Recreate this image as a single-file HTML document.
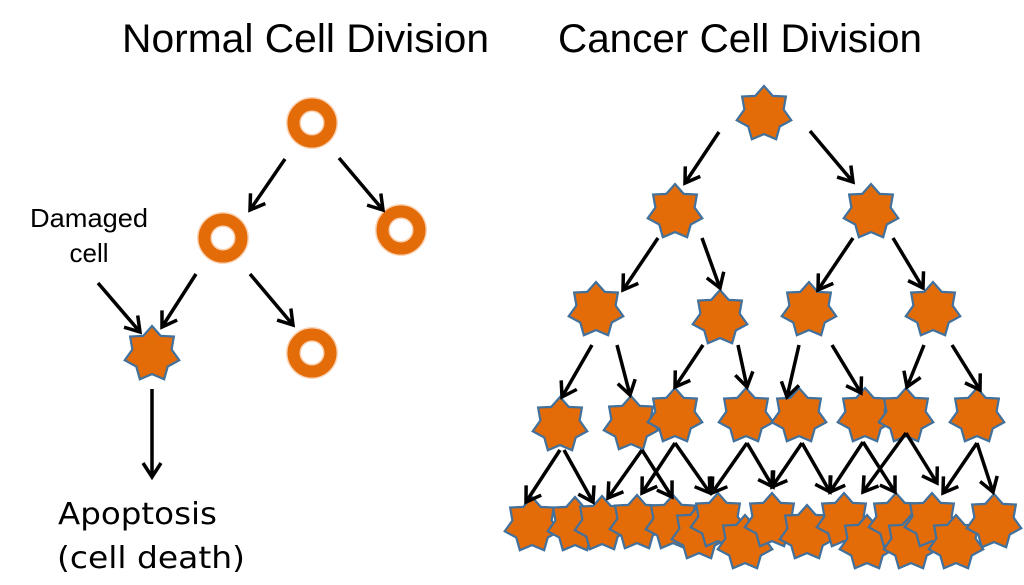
<!DOCTYPE html>
<html><head><meta charset="utf-8"><style>
html,body{margin:0;padding:0;background:#fff;}
svg{display:block;}
</style></head><body>
<svg width="1024" height="585" viewBox="0 0 1024 585" xmlns="http://www.w3.org/2000/svg">
<defs>
<marker id="ah" markerUnits="userSpaceOnUse" orient="auto" refX="0" refY="0" markerWidth="40" markerHeight="40" viewBox="-20 -20 40 40" style="overflow:visible">
<path d="M-14,-9 L0,0 L-14,9" fill="none" stroke="#000" stroke-width="3.5" stroke-linejoin="miter"/>
</marker>
<g id="st"><path d="M0,-28 L8.73,-18.13 L21.89,-17.45 L19.61,-4.48 L27.29,6.23 L15.73,12.55 L12.15,25.23 L0,20.12 L-12.15,25.23 L-15.73,12.55 L-27.29,6.23 L-19.61,-4.48 L-21.89,-17.45 L-8.73,-18.13 Z" fill="#E36C09" stroke="#41719C" stroke-width="2.2" stroke-linejoin="miter"/></g>
<g id="rg"><circle r="18.5" fill="none" stroke="#FAD3B5" stroke-width="15"/><circle r="18.5" fill="none" stroke="#E36C09" stroke-width="12"/></g>
</defs>

<!-- Titles -->
<text x="122" y="52" font-family="Liberation Sans, sans-serif" font-size="40" fill="#000" textLength="367" lengthAdjust="spacingAndGlyphs">Normal Cell Division</text>
<text x="558" y="52" font-family="Liberation Sans, sans-serif" font-size="40" fill="#000" textLength="364" lengthAdjust="spacingAndGlyphs">Cancer Cell Division</text>

<!-- Left labels -->
<text x="89" y="227" font-family="Liberation Sans, sans-serif" font-size="26" fill="#000" text-anchor="middle" textLength="118" lengthAdjust="spacingAndGlyphs">Damaged</text>
<text x="89" y="262" font-family="Liberation Sans, sans-serif" font-size="26" fill="#000" text-anchor="middle">cell</text>
<text x="58" y="524" font-family="DejaVu Sans, sans-serif" font-size="30" fill="#000" textLength="159" lengthAdjust="spacingAndGlyphs">Apoptosis</text>
<text x="57" y="568" font-family="DejaVu Sans, sans-serif" font-size="30" fill="#000" textLength="188" lengthAdjust="spacingAndGlyphs">(cell death)</text>

<!-- Normal rings -->
<use href="#rg" x="312" y="123"/>
<use href="#rg" x="223" y="238"/>
<use href="#rg" x="401" y="230"/>
<use href="#rg" x="312" y="353"/>
<use href="#st" x="152" y="354"/>

<!-- Cancer stars -->
<use href="#st" x="764" y="114"/>
<use href="#st" x="675" y="212"/>
<use href="#st" x="871" y="212"/>
<use href="#st" x="596" y="310"/>
<use href="#st" x="720" y="318"/>
<use href="#st" x="809" y="310"/>
<use href="#st" x="933" y="310"/>

<use href="#st" x="560" y="425"/>
<use href="#st" x="631" y="424"/>
<use href="#st" x="675" y="416"/>
<use href="#st" x="746" y="416"/>
<use href="#st" x="799" y="416"/>
<use href="#st" x="865" y="416"/>
<use href="#st" x="906" y="416"/>
<use href="#st" x="977" y="416"/>

<use href="#st" x="532" y="525"/>
<use href="#st" x="575" y="525"/>
<use href="#st" x="602" y="524"/>
<use href="#st" x="637" y="523"/>
<use href="#st" x="673" y="523"/>
<use href="#st" x="699" y="533"/>
<use href="#st" x="718" y="521"/>
<use href="#st" x="745" y="543"/>
<use href="#st" x="772" y="521"/>
<use href="#st" x="807" y="533"/>
<use href="#st" x="844" y="521"/>
<use href="#st" x="867" y="543"/>
<use href="#st" x="896" y="521"/>
<use href="#st" x="911" y="543"/>
<use href="#st" x="932" y="521"/>
<use href="#st" x="956" y="543"/>
<use href="#st" x="994" y="522"/>

<!-- Arrows -->
<g stroke="#000" stroke-width="3.5" fill="none" marker-end="url(#ah)">
<line x1="285" y1="159" x2="250" y2="210"/>
<line x1="339" y1="158" x2="383" y2="210"/>
<line x1="196" y1="274" x2="162" y2="327"/>
<line x1="250" y1="274" x2="293" y2="325"/>
<line x1="98" y1="283" x2="140" y2="332"/>
<line x1="152" y1="389" x2="152" y2="477"/>

<line x1="719" y1="132" x2="685" y2="183"/>
<line x1="810" y1="131" x2="853" y2="182"/>
<line x1="658" y1="238" x2="623" y2="290"/>
<line x1="702" y1="238" x2="720" y2="288"/>
<line x1="853" y1="238" x2="818" y2="290"/>
<line x1="893" y1="238" x2="923" y2="288"/>

<line x1="592" y1="345" x2="562" y2="397"/>
<line x1="617" y1="345" x2="630" y2="395"/>
<line x1="703" y1="345" x2="675" y2="387"/>
<line x1="738" y1="345" x2="747" y2="387"/>
<line x1="799" y1="345" x2="787" y2="397"/>
<line x1="832" y1="345" x2="861" y2="393"/>
<line x1="924" y1="345" x2="907" y2="387"/>
<line x1="952" y1="345" x2="980" y2="390"/>

<line x1="560" y1="450" x2="526" y2="502"/>
<line x1="564" y1="450" x2="593" y2="502"/>
<line x1="642" y1="450" x2="608" y2="498"/>
<line x1="642" y1="450" x2="672" y2="497"/>
<line x1="675" y1="443" x2="642" y2="493"/>
<line x1="675" y1="443" x2="710" y2="493"/>
<line x1="747" y1="443" x2="712" y2="493"/>
<line x1="747" y1="443" x2="773" y2="487"/>
<line x1="802" y1="443" x2="772" y2="487"/>
<line x1="802" y1="443" x2="830" y2="492"/>
<line x1="863" y1="442" x2="830" y2="492"/>
<line x1="863" y1="442" x2="895" y2="492"/>
<line x1="906" y1="433" x2="863" y2="492"/>
<line x1="906" y1="433" x2="937" y2="483"/>
<line x1="977" y1="443" x2="943" y2="493"/>
<line x1="977" y1="443" x2="993" y2="492"/>
</g>
</svg>
</body></html>
